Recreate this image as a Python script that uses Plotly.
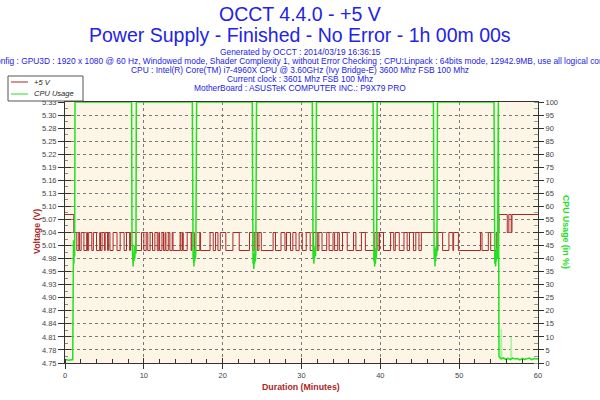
import plotly.graph_objects as go

# ---------------- data ----------------
# +5 V rail: base level 5.00 V, pulses at 5.04 V, start/end segments at 5.08 V
v_levels = {"low": 5.00, "mid": 5.04, "high": 5.08}
v_start_high_end = 1.12          # 5.08 V from 0 to here
v_pulse_start = [1.12, 1.75, 2.05, 2.75, 3.0, 3.6, 4.4, 4.7, 5.1, 5.5, 6.1, 7.0, 7.8, 8.3,
                 9.7, 10.3, 10.8, 11.4, 11.9, 12.3, 12.7, 13.1, 13.6, 14.6, 14.9, 15.5, 16.1,
                 17.1, 18.4, 19.1, 19.7, 21.3, 23.4, 24.0, 24.6, 26.4, 27.4, 28.1, 28.9, 29.7,
                 30.6, 31.5, 32.2, 33.2, 34.0, 34.6, 35.2, 36.6, 37.6, 39.3, 39.9, 41.3, 41.9,
                 43.0, 43.7, 44.5, 45.2, 47.3, 48.7, 49.3, 52.7, 53.7, 54.7]
v_pulse_end = [1.5, 1.85, 2.4, 2.85, 3.4, 4.0, 4.5, 5.0, 5.4, 5.7, 6.6, 7.5, 8.2, 9.0,
               10.0, 10.5, 11.1, 11.7, 12.0, 12.5, 12.8, 13.3, 13.7, 14.7, 15.0, 16.0, 16.4,
               17.2, 18.8, 19.4, 20.4, 22.1, 23.8, 24.4, 24.9, 26.7, 27.9, 28.6, 29.3, 30.1,
               31.1, 32.0, 32.6, 33.5, 34.2, 34.8, 35.8, 36.9, 38.1, 39.7, 40.4, 41.7, 42.4,
               43.4, 44.2, 44.9, 47.2, 47.9, 49.2, 49.9, 52.9, 54.0, 55.05]
v_end_high_start = 55.05         # 5.08 V from here to 60
v_end_dip_start = [56.1, 56.6]   # short drops to 5.04 V
v_end_dip_end = [56.3, 56.7]

# CPU usage (%)
cpu_t = [0.0, 0.5, 0.98, 1.03, 1.08, 1.13, 1.18, 1.22, 1.27,
         8.45, 8.5, 8.55, 8.6, 8.65, 8.7, 8.75, 8.8, 8.85, 8.9, 9.0, 9.05,
         16.15, 16.2, 16.25, 16.3, 16.35, 16.4, 16.45, 16.5, 16.55, 16.6, 16.7,
         23.75, 23.8, 23.85, 23.9, 23.95, 24.0, 24.05, 24.1, 24.15, 24.2, 24.3,
         31.37, 31.42, 31.47, 31.52, 31.57, 31.62, 31.67, 31.72, 31.77, 31.82, 31.9,
         39.08, 39.13, 39.18, 39.23, 39.28, 39.33, 39.38, 39.43, 39.48, 39.53, 39.6,
         46.73, 46.78, 46.83, 46.88, 46.93, 46.98, 47.03, 47.08, 47.13, 47.18, 47.25,
         54.42, 54.47, 54.52, 54.57, 54.62, 54.67, 54.72, 54.77, 54.82, 54.87, 54.92, 54.97,
         55.05, 55.3, 55.6, 55.9, 56.2, 56.5, 56.8, 57.1, 57.4, 57.7, 58.0, 58.3, 58.6,
         58.9, 59.2, 59.5, 59.8, 60.0]
cpu_v = [1.3, 1.1, 1.3, 42, 47, 38, 45, 41, 100,
         100, 46, 39, 44, 37, 42, 39, 45, 40, 44, 42, 100,
         100, 45, 40, 43, 37, 41, 39, 44, 40, 43, 100,
         100, 44, 38, 42, 36, 41, 38, 43, 39, 42, 100,
         100, 46, 40, 44, 38, 42, 40, 45, 41, 44, 100,
         100, 45, 39, 43, 37, 41, 38, 44, 40, 43, 100,
         100, 46, 40, 44, 37, 42, 39, 45, 41, 43, 100,
         100, 45, 38, 43, 37, 41, 39, 44, 40, 42, 100, 100,
         2.5, 1.6, 2.0, 1.4, 1.8, 1.3, 1.9, 1.5, 1.7, 1.2, 1.8, 1.4, 1.6,
         1.9, 1.3, 1.7, 1.5, 1.6]
# pale "max" envelope spikes
cpu_pale_t = [55.25, 55.3, 55.35, 55.4, 56.55, 56.6, 56.65]
cpu_pale_v = [1.6, 13.0, 13.0, 1.6, 1.6, 10.0, 1.6]

# axis ticks
y_left_ticktext = ["4.75", "4.78", "4.81", "4.84", "4.87", "4.90", "4.93", "4.95", "4.98",
                   "5.01", "5.04", "5.07", "5.10", "5.13", "5.16", "5.19", "5.22", "5.25",
                   "5.28", "5.30", "5.33"]
y_left_range = [4.75, 5.33]
y_right_range = [0, 100]
x_ticks = [0, 10, 20, 30, 40, 50, 60]

# ---------------- build step series ----------------
volt_t = [0.0]
volt_v = [v_levels["high"]]
for s, e in zip(v_pulse_start, v_pulse_end):
    volt_t += [s, e]
    volt_v += [v_levels["mid"], v_levels["low"]]
volt_t[-1] = v_end_high_start
volt_v[-1] = v_levels["high"]
for s, e in zip(v_end_dip_start, v_end_dip_end):
    volt_t += [s, e]
    volt_v += [v_levels["mid"], v_levels["high"]]
volt_t.append(60.0)
volt_v.append(v_levels["high"])

step = (y_left_range[1] - y_left_range[0]) / 20
y_left_tickvals = [y_left_range[0] + i * step for i in range(21)]

# ---------------- geometry helpers ----------------
W, H = 600, 400
ML, MR, MT, MB = 65, 62, 102, 37
PW, PH = W - ML - MR, H - MT - MB


def px(x):
    return (x - ML) / PW


def py(y):
    return (H - MB - y) / PH


RED = "#A82828"
GREEN = "#22E022"
BLUE = "#2323E6"
FONT = "Liberation Sans"

fig = go.Figure()

fig.add_trace(go.Scatter(x=volt_t, y=volt_v, mode="lines", line=dict(color=RED, width=1, shape="hv"),
                         name="+5 V", showlegend=False, yaxis="y"))
fig.add_trace(go.Scatter(x=cpu_pale_t, y=cpu_pale_v, mode="lines", line=dict(color="#A8F5A0", width=1.5),
                         showlegend=False, yaxis="y2", hoverinfo="skip"))
fig.add_trace(go.Scatter(x=cpu_t, y=cpu_v, mode="lines", line=dict(color=GREEN, width=1.5),
                         name="CPU Usage", showlegend=False, yaxis="y2"))
# dummy traces to bring crossing-tick overlay axes to life
fig.add_trace(go.Scatter(x=[None], y=[None], xaxis="x2", yaxis="y", showlegend=False, hoverinfo="skip"))
fig.add_trace(go.Scatter(x=[None], y=[None], xaxis="x", yaxis="y3", showlegend=False, hoverinfo="skip"))
fig.add_trace(go.Scatter(x=[None], y=[None], xaxis="x", yaxis="y4", showlegend=False, hoverinfo="skip"))

tickfont = dict(family=FONT, size=7.5, color="#444444")
AX = "#333333"

fig.update_layout(
    width=W, height=H,
    margin=dict(l=ML, r=MR, t=MT, b=MB, pad=0),
    paper_bgcolor="white",
    plot_bgcolor="#FDF6E7",
    showlegend=False,
    xaxis=dict(range=[0, 60], tickmode="array", tickvals=x_ticks, ticks="outside", ticklen=5,
               tickcolor=AX, showline=True, linecolor=AX, linewidth=1, mirror=True,
               showgrid=True, gridcolor="#7A7A7A", griddash="dot", gridwidth=1,
               zeroline=False, tickfont=tickfont,
               minor=dict(ticks="inside", dtick=2, tick0=0, ticklen=4, tickcolor=AX, showgrid=False)),
    xaxis2=dict(range=[0, 60], overlaying="x", anchor="y", side="bottom", tickmode="array",
                tickvals=x_ticks, ticks="inside", ticklen=5, tickcolor=AX, showticklabels=False,
                showgrid=False, zeroline=False, showline=False),
    yaxis=dict(range=y_left_range, tickmode="array", tickvals=y_left_tickvals, ticktext=y_left_ticktext,
               ticks="outside", ticklen=6, tickcolor=AX, showline=True, linecolor=AX, linewidth=1,
               showgrid=True, gridcolor="#7A7A7A", griddash="dot", gridwidth=1, zeroline=False,
               tickfont=tickfont,
               minor=dict(ticks="inside", tickmode="array",
                          tickvals=[y_left_range[0] + (i + 0.5) * step for i in range(20)],
                          ticklen=3, tickcolor="#888888", showgrid=False)),
    yaxis3=dict(range=y_left_range, overlaying="y", anchor="x", side="left", tickmode="array",
                tickvals=y_left_tickvals, ticks="inside", ticklen=6, tickcolor=AX,
                showticklabels=False, showgrid=False, zeroline=False, showline=False),
    yaxis2=dict(range=y_right_range, overlaying="y", anchor="x", side="right", tickmode="linear",
                tick0=0, dtick=5, ticks="outside", ticklen=5, tickcolor=AX, showline=True,
                linecolor=AX, linewidth=1, showgrid=False, zeroline=False, tickfont=tickfont,
                minor=dict(ticks="inside", dtick=2.5, tick0=0, ticklen=4, tickcolor="#999999", showgrid=False)),
    yaxis4=dict(range=y_right_range, overlaying="y", anchor="x", side="right", tickmode="linear",
                tick0=0, dtick=5, ticks="inside", ticklen=5, tickcolor=AX, showticklabels=False,
                showgrid=False, zeroline=False, showline=False),
)

ann = []


def text(x, y, s, size, color, xanchor="center", bold=False, italic=False, angle=0):
    ann.append(dict(x=px(x), y=py(y), xref="paper", yref="paper", text=s, showarrow=False,
                    xanchor=xanchor, yanchor="middle", textangle=angle,
                    font=dict(family=FONT, size=size, color=color,
                              weight="bold" if bold else "normal",
                              style="italic" if italic else "normal")))


text(300, 14, "OCCT 4.4.0 - +5 V", 19.5, BLUE)
text(300, 35, "Power Supply - Finished - No Error - 1h 00m 00s", 19.5, BLUE)
text(300, 52, "Generated by OCCT : 2014/03/19 16:36:15", 8.4, BLUE)
text(300, 61, "Config : GPU3D : 1920 x 1080 @ 60 Hz, Windowed mode, Shader Complexity 1, without Error Checking ; "
              "CPU:Linpack : 64bits mode, 12942.9MB, use all logical cores", 8.4, BLUE)
text(300, 70, "CPU : Intel(R) Core(TM) i7-4960X CPU @ 3.60GHz (Ivy Bridge-E) 3600 Mhz FSB 100 Mhz", 8.4, BLUE)
text(300, 79, "Current clock : 3601 Mhz FSB 100 Mhz", 8.4, BLUE)
text(300, 88, "MotherBoard : ASUSTeK COMPUTER INC.: P9X79 PRO", 8.4, BLUE)

text(37, 232, "Voltage (V)", 8.8, RED, bold=True, angle=-90)
text(566, 232, "CPU Usage (in %)", 8.8, GREEN, bold=True, angle=90)
text(301, 387, "Duration (Minutes)", 8.8, RED, bold=True)

# legend (drawn manually)
text(32, 82, "+5 V", 7.5, "#222222", xanchor="left", italic=True)
text(32, 94, "CPU Usage", 7.5, "#222222", xanchor="left", italic=True)
fig.update_layout(annotations=ann)

shapes = [
    dict(type="rect", xref="paper", yref="paper", x0=px(8), x1=px(83), y0=py(101), y1=py(76),
         fillcolor="white", line=dict(color="#555555", width=1), layer="above"),
    dict(type="line", xref="paper", yref="paper", x0=px(11), x1=px(28), y0=py(82), y1=py(82),
         line=dict(color=RED, width=1), layer="above"),
    dict(type="line", xref="paper", yref="paper", x0=px(11), x1=px(28), y0=py(94), y1=py(94),
         line=dict(color=GREEN, width=1), layer="above"),
]
fig.update_layout(shapes=shapes)

fig.write_html("out.html")
